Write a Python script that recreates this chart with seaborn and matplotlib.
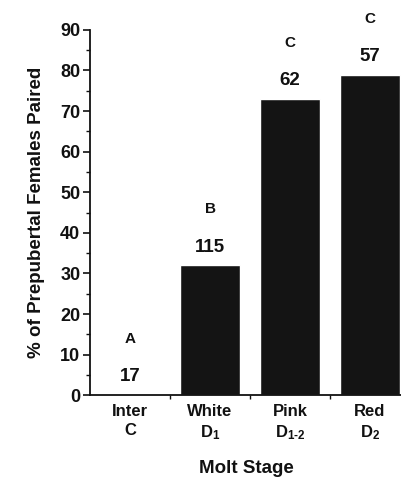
import matplotlib
matplotlib.use("Agg")

import matplotlib.pyplot as plt
import seaborn as sns
import pandas as pd
from matplotlib.ticker import MultipleLocator, FixedLocator

stages = ["Inter\nC", "White\nD$_{1}$", "Pink\nD$_{1\u20102}$", "Red\nD$_{2}$"]
pct_paired = [0, 32, 73, 79]
n_females = ["17", "115", "62", "57"]
groups = ["A", "B", "C", "C"]

sns.set_theme(style="white")
plt.rcParams["font.family"] = ["Liberation Sans", "DejaVu Sans"]
plt.rcParams["font.weight"] = "bold"
plt.rcParams["mathtext.fontset"] = "custom"
plt.rcParams["mathtext.rm"] = "Liberation Sans:bold"
plt.rcParams["mathtext.default"] = "rm"

df = pd.DataFrame({"stage": stages, "pct": pct_paired})

fig = plt.figure(figsize=(4.02, 4.82), dpi=100)
ax = fig.add_axes([0.224, 0.180, 0.776, 0.758])

sns.barplot(data=df, x="stage", y="pct", color="#141414", width=0.75,
            saturation=1, ax=ax)

# sample sizes and significance letters above each bar
for i, v in enumerate(pct_paired):
    ax.text(i, v + 4.5, n_females[i], ha="center", va="center",
            fontsize=13.5, fontweight="bold", color="#111111")
    ax.text(i, v + 13.8, groups[i], ha="center", va="center",
            fontsize=11, fontweight="bold", color="#111111")

ax.set_xlim(-0.5, 3.4)
ax.set_ylim(0, 90)
ax.yaxis.set_major_locator(MultipleLocator(10))
ax.yaxis.set_minor_locator(MultipleLocator(5))
ax.xaxis.set_minor_locator(FixedLocator([0.5, 1.5, 2.5]))

sns.despine(ax=ax)
for s in ["left", "bottom"]:
    ax.spines[s].set_color("#111111")
    ax.spines[s].set_linewidth(1.3)

ax.tick_params(axis="y", which="major", direction="out", length=5, width=1.2,
               left=True, labelsize=13, colors="#111111", pad=2)
ax.tick_params(axis="y", which="minor", direction="out", length=3, width=1,
               left=True, colors="#111111")
ax.tick_params(axis="x", which="major", length=0, labelsize=12,
               colors="#111111", pad=6)
ax.tick_params(axis="x", which="minor", direction="out", length=3, width=1,
               bottom=True, colors="#111111")
for lab in ax.get_yticklabels():
    lab.set_fontweight("bold")
for lab in ax.get_xticklabels():
    lab.set_fontweight("bold")
    lab.set_linespacing(1.35)

ax.set_xlabel("Molt Stage", fontsize=13.5, fontweight="bold",
              color="#111111", labelpad=13)
ax.set_ylabel("% of Prepubertal Females Paired", fontsize=13.5,
              fontweight="bold", color="#111111", labelpad=11)

fig.savefig("out.png", dpi=100)
plt.close(fig)
